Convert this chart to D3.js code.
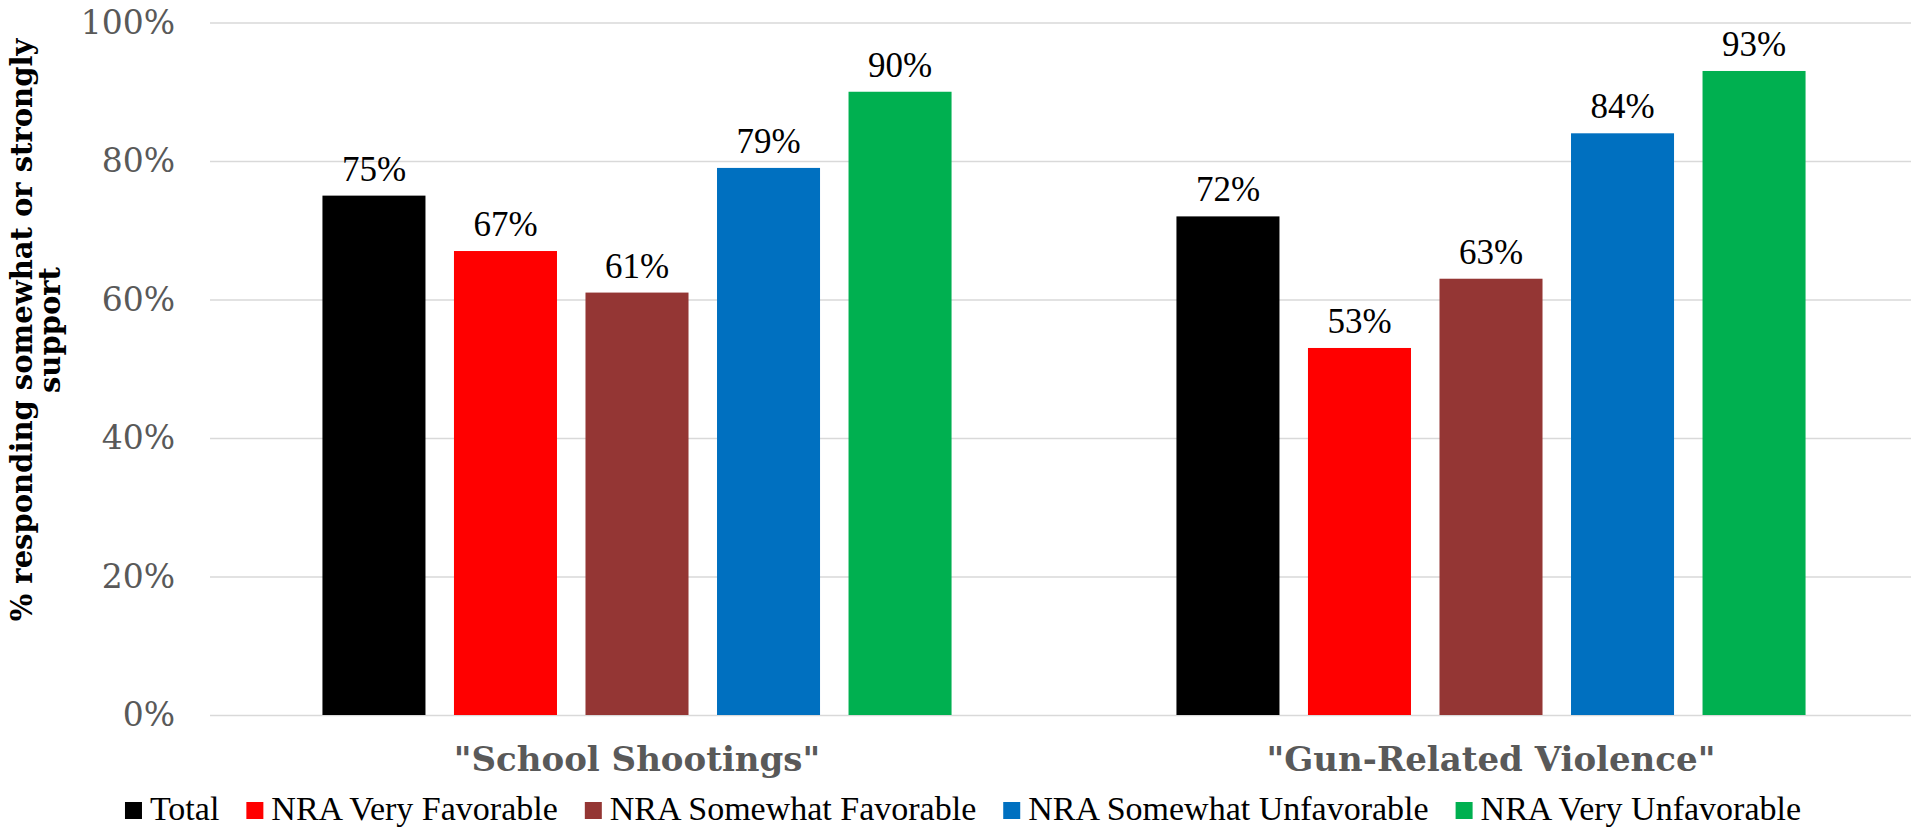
<!DOCTYPE html>
<html>
<head>
<meta charset="utf-8">
<script src="https://cdn.jsdelivr.net/npm/d3@7"></script>
<style>
  html, body { margin: 0; padding: 0; background: #fff; }
  svg { display: block; }
  .tnr { font-family: "Liberation Serif", "Times New Roman", Tinos, serif; }
  .geo { font-family: Georgia, "DejaVu Serif", serif; }
</style>
</head>
<body>
<svg id="chart" width="1911" height="827"></svg>
<script>
const categories = ['"School Shootings"', '"Gun-Related Violence"'];
const seriesNames = ["Total", "NRA Very Favorable", "NRA Somewhat Favorable", "NRA Somewhat Unfavorable", "NRA Very Unfavorable"];
const seriesColors = ["#000000", "#FF0000", "#943634", "#0070C0", "#00B050"];
const totalValues = [75, 72];
const veryFavorableValues = [67, 53];
const somewhatFavorableValues = [61, 63];
const somewhatUnfavorableValues = [79, 84];
const veryUnfavorableValues = [90, 93];
const yTicks = [0, 20, 40, 60, 80, 100];
const yTitleLines = ["% responding somewhat or strongly", "support"];

const seriesValues = [totalValues, veryFavorableValues, somewhatFavorableValues, somewhatUnfavorableValues, veryUnfavorableValues];

const svg = d3.select("#chart");
const W = 1911, H = 827;
const plotLeft = 210, plotRight = 1918, plotTop = 22.5, plotBottom = 715;

const x0 = d3.scaleBand().domain(categories).range([plotLeft, plotRight]).padding(0);
const x1 = d3.scaleBand().domain(seriesNames).range([0, x0.bandwidth()])
  .paddingInner(0.2167).paddingOuter(0.855);
const y = d3.scaleLinear().domain([0, 100]).range([plotBottom, plotTop]);

// gridlines + tick labels
const yAxis = d3.axisLeft(y).tickValues(yTicks).tickFormat(d => d + "%")
  .tickSize(-(W - plotLeft)).tickPadding(35);
const gy = svg.append("g").attr("transform", `translate(${plotLeft},0)`).call(yAxis);
gy.attr("font-family", null).attr("font-size", null);
gy.select(".domain").remove();
gy.selectAll(".tick line").attr("stroke", "#d9d9d9").attr("stroke-width", 1.6);
gy.selectAll(".tick text")
  .attr("class", "geo")
  .attr("fill", "#595959")
  .style("font-size", "33px");

// bars
const groups = svg.append("g").selectAll("g").data(categories).join("g")
  .attr("transform", d => `translate(${x0(d)},0)`);

groups.selectAll("rect")
  .data((c, ci) => seriesNames.map((s, si) => ({ s, si, v: seriesValues[si][ci] })))
  .join("rect")
  .attr("x", d => x1(d.s))
  .attr("width", x1.bandwidth())
  .attr("y", d => y(d.v))
  .attr("height", d => y(0) - y(d.v))
  .attr("fill", d => seriesColors[d.si]);

groups.selectAll("text.lbl")
  .data((c, ci) => seriesNames.map((s, si) => ({ s, si, v: seriesValues[si][ci] })))
  .join("text")
  .attr("class", "lbl tnr")
  .attr("x", d => x1(d.s) + x1.bandwidth() / 2)
  .attr("y", d => y(d.v) - 15)
  .attr("text-anchor", "middle")
  .attr("fill", "#000")
  .style("font-size", "35px")
  .text(d => d.v + "%");

// category labels
svg.append("g").selectAll("text").data(categories).join("text")
  .attr("class", "geo")
  .attr("x", d => x0(d) + x0.bandwidth() / 2)
  .attr("y", 771)
  .attr("text-anchor", "middle")
  .attr("fill", "#595959")
  .style("font-weight", "bold")
  .style("font-size", "34px")
  .text(d => d);

// y axis title
const yt = svg.append("g").attr("transform", `translate(0, 330) rotate(-90)`);
yt.selectAll("text").data(yTitleLines).join("text")
  .attr("class", "geo")
  .attr("x", 0)
  .attr("y", (d, i) => 32 + i * 28)
  .attr("text-anchor", "middle")
  .attr("fill", "#000")
  .style("font-weight", "bold")
  .style("font-size", "29px")
  .text(d => d);

// legend
const legend = svg.append("g");
const items = legend.selectAll("g").data(seriesNames).join("g");
items.append("rect")
  .attr("width", 17).attr("height", 17)
  .attr("y", 802)
  .attr("fill", (d, i) => seriesColors[i]);
items.append("text")
  .attr("class", "tnr")
  .attr("x", 25)
  .attr("y", 820)
  .attr("fill", "#000")
  .style("font-size", "34px")
  .text(d => d);
const widths = [];
items.each(function () {
  const tw = d3.select(this).select("text").node().getComputedTextLength();
  widths.push(25 + tw);
});
const totalW = d3.sum(widths) + 27 * (widths.length - 1);
let start = 963 - totalW / 2;
items.attr("transform", (d, i) => {
  const t = `translate(${start},0)`;
  start += widths[i] + 27;
  return t;
});
</script>
</body>
</html>
